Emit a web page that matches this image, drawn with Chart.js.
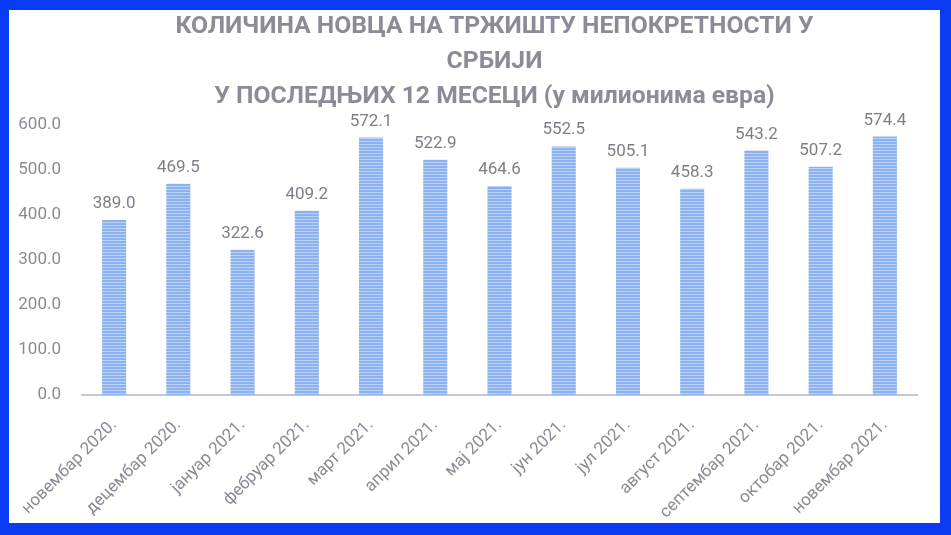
<!DOCTYPE html>
<html>
<head>
<meta charset="utf-8">
<script src="https://cdn.jsdelivr.net/npm/chart.js@4"></script>
<style>
  html, body { margin: 0; padding: 0; }
  body { width: 951px; height: 535px; background: #0a3cf6; position: relative; overflow: hidden; }
  #frame { position: absolute; left: 9px; top: 10px; width: 931px; height: 513px; background: #ffffff; }
  canvas { display: block; }
</style>
</head>
<body>
<div id="frame"><canvas id="c" width="931" height="513"></canvas></div>
<script>
// Monthly amounts, in millions of euros
const months = ['новембар 2020.', 'децембар 2020.', 'јануар 2021.', 'фебруар 2021.', 'март 2021.', 'април 2021.',
  'мај 2021.', 'јун 2021.', 'јул 2021.', 'август 2021.', 'септембар 2021.', 'октобар 2021.', 'новембар 2021.'];
const amounts = [389.0, 469.5, 322.6, 409.2, 572.1, 522.9, 464.6, 552.5, 505.1, 458.3, 543.2, 507.2, 574.4];
const titleLines = ['КОЛИЧИНА НОВЦА НА ТРЖИШТУ НЕПОКРЕТНОСТИ У', 'СРБИЈИ', 'У ПОСЛЕДЊИХ 12 МЕСЕЦИ (у милионима евра)'];

const FONT = 'Roboto, "Noto Sans", sans-serif';
const GREY = '#8a8a96';

// Horizontal stripe fill for the bars
function stripes() {
  const p = document.createElement('canvas');
  p.width = 4; p.height = 3;
  const g = p.getContext('2d');
  g.fillStyle = '#8bb2ee';
  g.fillRect(0, 0, 4, 3);
  g.fillStyle = '#bcd3f6';
  g.fillRect(0, 2, 4, 1);
  return g.createPattern(p, 'repeat');
}

// Three-line heading, centred a little left of the plot centre
const heading = {
  id: 'heading',
  afterDraw(chart) {
    const ctx = chart.ctx;
    const area = chart.chartArea;
    const cx = (area.left + area.right) / 2 - 5;
    ctx.save();
    ctx.font = 'bold 24.7px ' + FONT;
    ctx.fillStyle = '#8c8c98';
    ctx.textAlign = 'center';
    ctx.textBaseline = 'middle';
    titleLines.forEach((line, i) => ctx.fillText(line, cx, 17 + i * 35));
    ctx.restore();
  }
};

// Value printed above each bar
const valueLabels = {
  id: 'valueLabels',
  afterDatasetsDraw(chart) {
    const ctx = chart.ctx;
    const meta = chart.getDatasetMeta(0);
    ctx.save();
    ctx.font = '17px ' + FONT;
    ctx.fillStyle = '#7e7e8a';
    ctx.textAlign = 'center';
    ctx.textBaseline = 'alphabetic';
    meta.data.forEach((bar, i) => {
      ctx.fillText(amounts[i].toFixed(1), bar.x, bar.y - 12);
    });
    ctx.restore();
  }
};

new Chart(document.getElementById('c'), {
  type: 'bar',
  data: {
    labels: months,
    datasets: [{
      data: amounts,
      backgroundColor: stripes(),
      borderWidth: 0,
      barPercentage: 0.375,
      categoryPercentage: 1
    }]
  },
  options: {
    responsive: false,
    animation: false,
    layout: { padding: { left: 0, right: 23, top: 115, bottom: 0 } },
    plugins: {
      legend: { display: false },
      tooltip: { enabled: false },
      title: { display: false }
    },
    scales: {
      x: {
        grid: { display: false },
        border: { display: true, color: '#c8c8d0', width: 2 },
        ticks: {
          color: GREY,
          font: { family: FONT, size: 17 },
          maxRotation: 45,
          minRotation: 45,
          autoSkip: false,
          padding: 12
        },
        afterFit(scale) { scale.height = 128; }
      },
      y: {
        min: 0,
        max: 600,
        grid: { display: false },
        border: { display: false },
        ticks: {
          stepSize: 100,
          color: GREY,
          font: { family: FONT, size: 17 },
          padding: 13,
          callback: v => v.toFixed(1)
        },
        afterFit(scale) { scale.width = 73; }
      }
    }
  },
  plugins: [valueLabels, heading]
});
</script>
</body>
</html>
